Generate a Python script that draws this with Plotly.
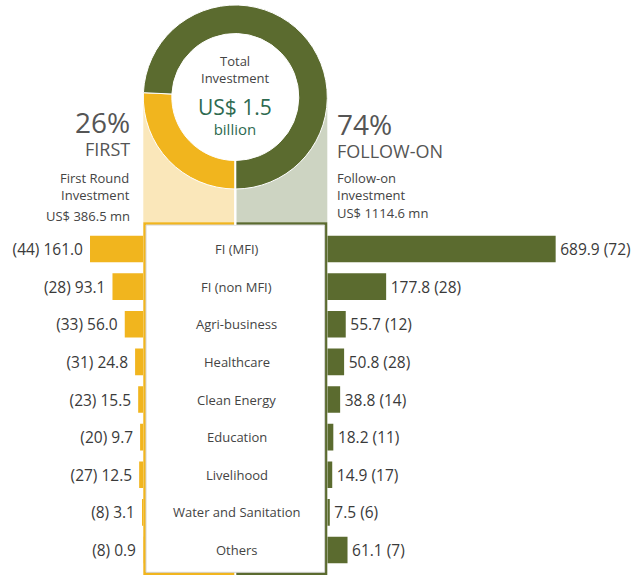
import plotly.graph_objects as go

W, H = 638, 575

categories = ["FI (MFI)", "FI (non MFI)", "Agri-business", "Healthcare", "Clean Energy",
              "Education", "Livelihood", "Water and Sanitation", "Others"]
first_amount = [161.0, 93.1, 56.0, 24.8, 15.5, 9.7, 12.5, 3.1, 0.9]
first_count = [44, 28, 33, 31, 23, 20, 27, 8, 8]
follow_amount = [689.9, 177.8, 55.7, 50.8, 38.8, 18.2, 14.9, 7.5, 61.1]
follow_count = [72, 28, 12, 28, 14, 11, 17, 6, 7]

donut_labels = ["First Round", "Follow-on"]
donut_values = [386.5, 1114.6]

YELLOW = "#F1B51E"
GREEN = "#5B6B2F"
LIGHT_YELLOW = "#FAE7BA"
LIGHT_GREEN = "#CDD4C2"
TEXT = "#444444"
NUM = "#3a3a3a"
TEAL = "#2E6A50"
FONT = "Open Sans"


def px(x):
    return x / W


def py(y):
    return 1 - y / H


first_text = [f"({c}) {a:.1f}\u00a0" for a, c in zip(first_amount, first_count)]
follow_text = [f"\u200a{a:.1f} ({c})" for a, c in zip(follow_amount, follow_count)]

scale = 0.331  # px per US$ mn
box_l, box_r = 143.3, 327.3
cx, cy, R, r_in = 235.3, 97.0, 92.0, 63.5

fig = go.Figure()

fig.add_trace(go.Bar(
    x=first_amount, y=categories, orientation="h", xaxis="x", yaxis="y",
    marker=dict(color=YELLOW, line=dict(width=0)),
    text=first_text, textposition="outside", cliponaxis=False, constraintext="none",
    textfont=dict(family=FONT, size=15.5, color=NUM), hoverinfo="skip", showlegend=False,
))
fig.add_trace(go.Bar(
    x=follow_amount, y=categories, orientation="h", xaxis="x2", yaxis="y",
    marker=dict(color=GREEN, line=dict(width=0)),
    text=follow_text, textposition="outside", cliponaxis=False, constraintext="none",
    textfont=dict(family=FONT, size=15.5, color=NUM), hoverinfo="skip", showlegend=False,
))

fig.add_trace(go.Pie(
    labels=donut_labels, values=donut_values, hole=r_in / R, sort=False,
    direction="clockwise", rotation=180,
    marker=dict(colors=[YELLOW, GREEN], line=dict(color="white", width=1)),
    textinfo="none", hoverinfo="skip", showlegend=False,
    domain=dict(x=[px(cx - R), px(cx + R)], y=[py(cy + R), py(cy - R)]),
))

row_top, row_bot = 230.2, 568.8

fig.update_layout(
    width=W, height=H, margin=dict(l=0, r=0, t=0, b=0, pad=0),
    paper_bgcolor="white", plot_bgcolor="rgba(0,0,0,0)",
    bargap=0.29, showlegend=False,
    font=dict(family=FONT, color=TEXT),
    xaxis=dict(domain=[0, px(box_l)], range=[box_l / scale, 0], visible=False, fixedrange=True),
    xaxis2=dict(domain=[px(box_r), 1], range=[0, (W - box_r) / scale], visible=False,
                anchor="y", fixedrange=True),
    yaxis=dict(domain=[py(row_bot), py(row_top)], type="category",
               categoryorder="array", categoryarray=categories,
               range=[len(categories) - 0.5, -0.5], visible=False, fixedrange=True),
)

shapes = []
shapes.append(dict(type="rect", xref="paper", yref="paper", layer="below",
                   x0=px(box_l), x1=px(cx - 1), y0=py(222.3), y1=py(cy),
                   fillcolor=LIGHT_YELLOW, line=dict(width=0)))
shapes.append(dict(type="rect", xref="paper", yref="paper", layer="below",
                   x0=px(cx + 1), x1=px(box_r), y0=py(222.3), y1=py(cy),
                   fillcolor=LIGHT_GREEN, line=dict(width=0)))
shapes.append(dict(type="circle", xref="paper", yref="paper", layer="below",
                   x0=px(cx - r_in), x1=px(cx + r_in), y0=py(cy + r_in), y1=py(cy - r_in),
                   fillcolor="white", line=dict(width=0)))
shapes.append(dict(type="rect", xref="paper", yref="paper", layer="below",
                   x0=px(box_l), x1=px(cx - 1), y0=py(H), y1=py(222.3),
                   fillcolor=YELLOW, line=dict(width=0)))
shapes.append(dict(type="rect", xref="paper", yref="paper", layer="below",
                   x0=px(cx + 1), x1=px(box_r), y0=py(H), y1=py(222.3),
                   fillcolor=GREEN, line=dict(width=0)))
shapes.append(dict(type="rect", xref="paper", yref="paper", layer="below",
                   x0=px(146.0), x1=px(324.6), y0=py(572.3), y1=py(225.0),
                   fillcolor="white", line=dict(width=1, color="#d4d4d4")))
shapes.append(dict(type="line", xref="paper", yref="paper", layer="above",
                   x0=px(cx), x1=px(cx), y0=py(150), y1=py(225),
                   line=dict(width=2, color="white")))
fig.update_layout(shapes=shapes)

ann = []
for c in categories:
    ann.append(dict(x=px(236.5), y=c, xref="paper", yref="y", text=c, showarrow=False,
                    xanchor="center", yanchor="middle",
                    font=dict(family=FONT, size=13, color=TEXT)))


def label(text, x, y, size, color=TEXT, anchor="left"):
    ann.append(dict(x=px(x), y=py(y), xref="paper", yref="paper", text=text,
                    showarrow=False, xanchor=anchor, yanchor="middle",
                    align=anchor if anchor != "center" else "center",
                    font=dict(family=FONT, size=size, color=color)))


# donut centre
label("Total<br>Investment", cx, 70, 13, anchor="center")
label("<span style='font-size:21px'>US$ 1.5</span><br>billion", cx, 116, 15,
      color=TEAL, anchor="center")

# left block
label("<span style='font-size:28px'>26%</span><br>FIRST", 132, 131.5, 18,
      color="#555555", anchor="right")
label("First Round<br>Investment", 132, 186, 13, anchor="right")
label("US$ 386.5 mn", 132, 216, 13, anchor="right")

# right block
label("<span style='font-size:28px'>74%</span><br>FOLLOW-ON", 335, 134, 18,
      color="#555555", anchor="left")
label("Follow-on<br>Investment", 335, 186.5, 13, anchor="left")
label("US$ 1114.6 mn", 335, 213.5, 13, anchor="left")

fig.update_layout(annotations=ann)

fig.write_html("out.html", config={"displayModeBar": False},
               post_script="document.body.style.margin='0';")
